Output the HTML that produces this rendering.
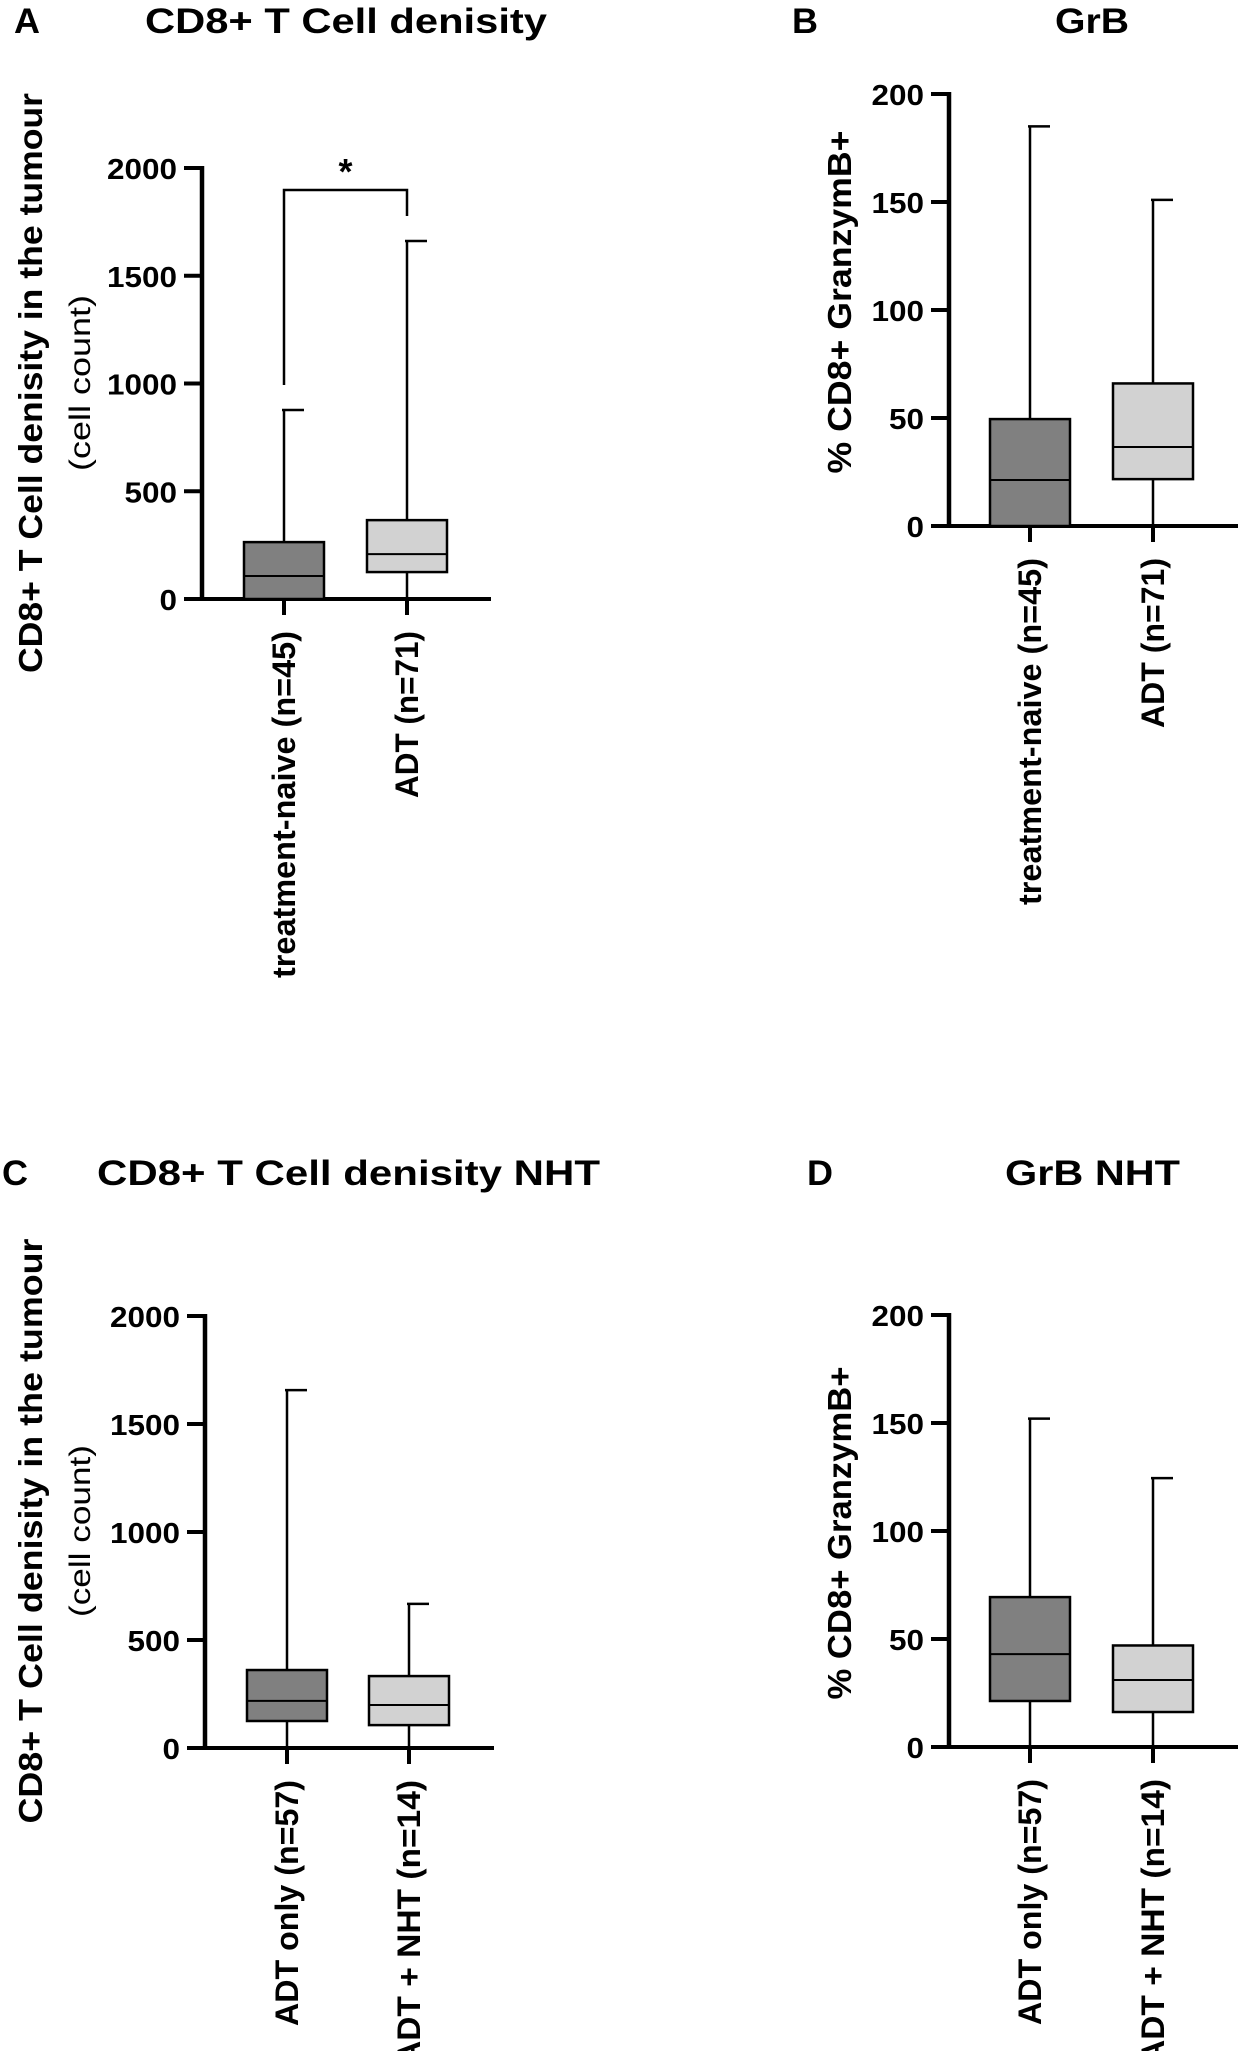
<!DOCTYPE html>
<html><head><meta charset="utf-8"><style>
html,body{margin:0;padding:0;background:#fff;}
svg{display:block;font-family:"Liberation Sans",sans-serif;}
</style></head><body>
<svg id="fig" width="1241" height="2051" viewBox="0 0 1241 2051" xmlns="http://www.w3.org/2000/svg"></svg>
<script>
// Panel A data
const aCategories = ["treatment-naive (n=45)", "ADT (n=71)"];
const aMin = [0, 0];
const aQ1 = [0, 125];
const aMedian = [107, 208];
const aQ3 = [264, 366];
const aMax = [877, 1661];
const aTicks = [0, 500, 1000, 1500, 2000];
// Panel B data
const bCategories = ["treatment-naive (n=45)", "ADT (n=71)"];
const bMin = [0, 0];
const bQ1 = [0, 21.7];
const bMedian = [21.3, 36.6];
const bQ3 = [49.5, 66];
const bMax = [185, 151];
const bTicks = [0, 50, 100, 150, 200];
// Panel C data
const cCategories = ["ADT only (n=57)", "ADT + NHT (n=14)"];
const cMin = [0, 0];
const cQ1 = [125, 106];
const cMedian = [218, 199];
const cQ3 = [361, 333];
const cMax = [1657, 667];
const cTicks = [0, 500, 1000, 1500, 2000];
// Panel D data
const dCategories = ["ADT only (n=57)", "ADT + NHT (n=14)"];
const dMin = [0, 0];
const dQ1 = [21.3, 16.2];
const dMedian = [43, 31];
const dQ3 = [69.4, 47];
const dMax = [152, 124.5];
const dTicks = [0, 50, 100, 150, 200];

const NS = "http://www.w3.org/2000/svg";
const svg = document.getElementById('fig');
function mk(tag, attrs, parent, text) {
  const e = document.createElementNS(NS, tag);
  for (const k in attrs) e.setAttribute(k, attrs[k]);
  if (text !== undefined) e.textContent = text;
  (parent || svg).appendChild(e);
  return e;
}
const fills = ["#808080", "#d2d2d2"];

function panel(p) {
  const g = mk('g', {});
  
  
  const y = v => p.y0 - (v / p.ymax) * (p.y0 - p.yTop);
  const L = mk('text', {x: p.letterX, y: p.titleY, 'font-size': 35, 'font-weight': 'bold', textLength: 26, lengthAdjust: 'spacingAndGlyphs'}, g, p.letter);
  
  
  const T = mk('text', {x: p.titleX, y: p.titleY, 'font-size': 35, 'font-weight': 'bold', textLength: p.titleW, lengthAdjust: 'spacingAndGlyphs'}, g, p.title);
  
  
  const yt = mk('text', {x: 0, y: 0, 'font-size': 33, 'font-weight': 'bold', 'text-anchor': 'middle', textLength: p.ytLen, lengthAdjust: 'spacingAndGlyphs', transform: `translate(${p.ytX},${p.ytY}) rotate(-90)`}, g, p.ytitle);
  
  
  if (p.ysub) {
    const ys = mk('text', {x: 0, y: 0, 'font-size': 30, 'text-anchor': 'middle', textLength: p.ysLen, lengthAdjust: 'spacingAndGlyphs', transform: `translate(${p.ysX},${p.ytY}) rotate(-90)`}, g, p.ysub);
    
    
  }
  const ya = mk('line', {x1: p.ax, y1: p.yTop - 2, x2: p.ax, y2: p.y0 + 2, stroke: '#000', 'stroke-width': 4.5}, g);
  
  
  const xa = mk('line', {x1: p.ax - 18, y1: p.y0, x2: p.axEnd, y2: p.y0, stroke: '#000', 'stroke-width': 4}, g);
  
  
  p.ticks.forEach(t => {
    const tl = mk('line', {x1: p.ax - 18, y1: y(t), x2: p.ax, y2: y(t), stroke: '#000', 'stroke-width': 4}, g);
    
    
    const s = String(t);
    const tx = mk('text', {x: p.ax - 25, y: y(t) + 11, 'font-size': 29, 'font-weight': 'bold', 'text-anchor': 'end', textLength: s.length * 17.5, lengthAdjust: 'spacingAndGlyphs'}, g, s);
    
    
  });
  p.cats.forEach((c, i) => {
    const cx = p.cx[i], hw = 40;
    const wl = mk('line', {x1: cx, y1: y(p.max[i]), x2: cx, y2: y(p.min[i]), stroke: '#000', 'stroke-width': 2.5}, g);
    
    
    const cap = mk('line', {x1: cx - 2, y1: y(p.max[i]), x2: cx + 20, y2: y(p.max[i]), stroke: '#000', 'stroke-width': 2.5}, g);
    
    
    const bx = mk('rect', {x: cx - hw, y: y(p.q3[i]), width: hw * 2, height: y(p.q1[i]) - y(p.q3[i]), fill: fills[i], stroke: '#000', 'stroke-width': 2.5}, g);
    
    
    const md = mk('line', {x1: cx - hw, y1: y(p.med[i]), x2: cx + hw, y2: y(p.med[i]), stroke: '#000', 'stroke-width': 2}, g);
    
    
    const xt = mk('line', {x1: cx, y1: p.y0, x2: cx, y2: p.y0 + 16, stroke: '#000', 'stroke-width': 4}, g);
    
    
    const lab = mk('text', {x: 0, y: 0, 'font-size': 32, 'font-weight': 'bold', 'text-anchor': 'end', textLength: p.labLen[i], lengthAdjust: 'spacingAndGlyphs', transform: `translate(${cx + 11},${p.y0 + 32}) rotate(-90)`}, g, c);
    
    
  });
  if (p.sig) {
    const br = mk('polyline', {points: `${p.cx[0]},${y(993)} ${p.cx[0]},${y(1898)} ${p.cx[1]},${y(1898)} ${p.cx[1]},${y(1777)}`, fill: 'none', stroke: '#000', 'stroke-width': 2.5}, g);
    
    
    const st = mk('text', {x: (p.cx[0] + p.cx[1]) / 2, y: y(1898) - 6, 'font-size': 36, 'font-weight': 'bold', 'text-anchor': 'middle'}, g, '*');
    
    
  }
}

panel({name: 'panel-a', letter: 'A', letterX: 14, title: 'CD8+ T Cell denisity', titleX: 145, titleW: 402, titleY: 33,
  ytitle: 'CD8+ T Cell denisity in the tumour', ytX: 42, ytY: 383, ytLen: 580, ysub: '(cell count)', ysX: 90, ysLen: 176,
  ax: 202, axEnd: 491, y0: 599, yTop: 168, ymax: 2000, ticks: aTicks, cx: [284, 407],
  cats: aCategories, min: aMin, q1: aQ1, med: aMedian, q3: aQ3, max: aMax, labLen: [347, 167], sig: true});
panel({name: 'panel-b', letter: 'B', letterX: 792, title: 'GrB', titleX: 1055, titleW: 74, titleY: 33,
  ytitle: '% CD8+ GranzymB+', ytX: 851, ytY: 302, ytLen: 343,
  ax: 949, axEnd: 1238, y0: 526, yTop: 94, ymax: 200, ticks: bTicks, cx: [1030, 1153],
  cats: bCategories, min: bMin, q1: bQ1, med: bMedian, q3: bQ3, max: bMax, labLen: [347, 170]});
panel({name: 'panel-c', letter: 'C', letterX: 2, title: 'CD8+ T Cell denisity NHT', titleX: 97, titleW: 503, titleY: 1185,
  ytitle: 'CD8+ T Cell denisity in the tumour', ytX: 42, ytY: 1531, ytLen: 585, ysub: '(cell count)', ysX: 90, ysLen: 172,
  ax: 205, axEnd: 494, y0: 1748, yTop: 1316, ymax: 2000, ticks: cTicks, cx: [287, 409],
  cats: cCategories, min: cMin, q1: cQ1, med: cMedian, q3: cQ3, max: cMax, labLen: [246, 285]});
panel({name: 'panel-d', letter: 'D', letterX: 807, title: 'GrB NHT', titleX: 1005, titleW: 175, titleY: 1185,
  ytitle: '% CD8+ GranzymB+', ytX: 851, ytY: 1533, ytLen: 333,
  ax: 949, axEnd: 1238, y0: 1747, yTop: 1315, ymax: 200, ticks: dTicks, cx: [1030, 1153],
  cats: dCategories, min: dMin, q1: dQ1, med: dMedian, q3: dQ3, max: dMax, labLen: [246, 285]});
</script>
</body></html>
